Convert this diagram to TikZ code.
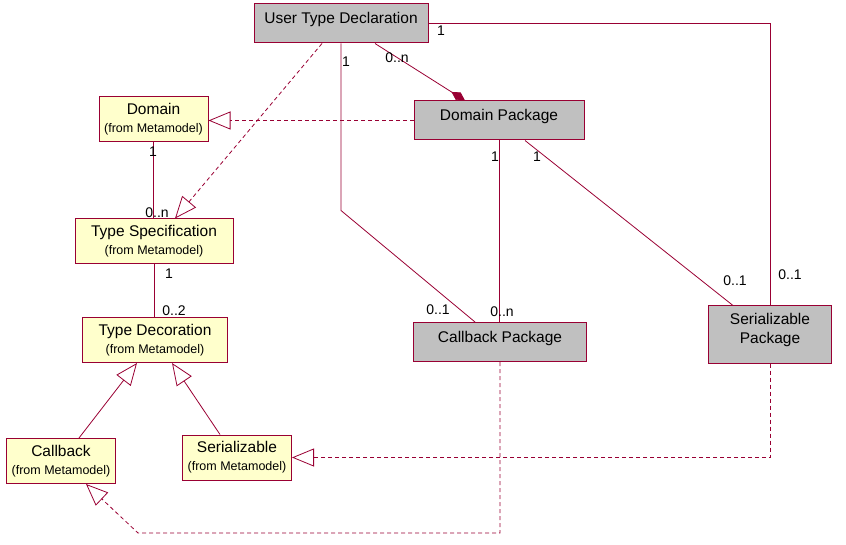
\documentclass[tikz,border=0pt]{standalone}
\usepackage{fontspec}
\setmainfont{Liberation Sans}
\usetikzlibrary{arrows.meta}

\definecolor{rose}{HTML}{990033}
\definecolor{pkggray}{HTML}{C0C0C0}
\definecolor{metayellow}{HTML}{FFFFCC}
\newcommand{\frommeta}{{\fontsize{12.5}{15}\selectfont (from Metamodel)}}

\begin{document}
\begin{tikzpicture}[
        x=1pt, y=-1pt, % координаты в пикселях, ось y вниз
        font=\fontsize{15.5}{18}\selectfont,
        box/.style={draw=rose, line width=1pt, inner sep=0pt, align=center},
        pkg/.style={box, fill=pkggray, text height=10pt, text depth=10pt}, % пакеты
        meta/.style={box, fill=metayellow, minimum width=109pt, minimum height=45pt}, % классы метамодели
        assoc/.style={draw=rose, line width=0.8pt},
        dep/.style={assoc, dash pattern=on 4pt off 3pt, -{Triangle[open, length=22pt, width=18pt]}},
        gen/.style={assoc, -{Triangle[open, length=22pt, width=18pt]}},
        comp/.style={assoc, -{Diamond[length=16pt, width=9pt]}},
        mult/.style={font=\fontsize{14}{16}\selectfont, inner sep=0pt}, % кратности
    ]
    \useasboundingbox (0,0) rectangle (846,545);

    \node[pkg, minimum width=174pt, minimum height=39pt] (utd) at (341,23.5) {User Type Declaration};
    \node[pkg, minimum width=170pt, minimum height=39pt] (dompkg) at (499,120.5) {Domain Package};
    \node[pkg, minimum width=173pt, minimum height=39pt] (cbpkg) at (500,342) {Callback Package};
    \node[pkg, minimum width=123pt, minimum height=57pt, text height=27pt] (serpkg) at (770,334.5) {Serializable\\Package};

    \node[meta] (domain) at (153.5,119.5) {Domain\\\frommeta};
    \node[meta, minimum width=158pt] (typespec) at (154,241.5) {Type Specification\\\frommeta};
    \node[meta, minimum width=145pt] (typedec) at (155,340) {Type Decoration\\\frommeta};
    \node[meta] (callback) at (61,461) {Callback\\\frommeta};
    \node[meta] (serial) at (237,457.5) {Serializable\\\frommeta};

    \coordinate (cbturn) at (138,533);

    \draw[assoc] (utd.east) -| (serpkg.north);
    \draw[assoc] (utd.south) -- ++(0,167) -- ([xshift=-25pt]cbpkg.north);
    \draw[comp] ([xshift=34pt]utd.south) -- ([xshift=-34pt]dompkg.north);
    \draw[dep] ([xshift=-19pt]utd.south) -- ([xshift=21pt]typespec.north);
    \draw[dep] (dompkg.west) -- (dompkg.west -| domain.east);
    \draw[assoc] (domain.south) -- (domain.south |- typespec.north);
    \draw[assoc] (typespec.south) -- (typespec.south |- typedec.north);
    \draw[gen] ([xshift=18pt]callback.north) -- ([xshift=-18pt]typedec.south);
    \draw[gen] ([xshift=-17pt]serial.north) -- ([xshift=17pt]typedec.south);
    \draw[assoc] (dompkg.south) -- (dompkg.south |- cbpkg.north);
    \draw[assoc] ([xshift=26pt]dompkg.south) -- ([xshift=-37pt]serpkg.north);
    \draw[dep] (serpkg.south) |- (serial.east);
    \draw[dep] (cbpkg.south) -- (cbpkg.south |- cbturn) -- (cbturn) -- ([xshift=25pt]callback.south);

    \node[mult] (m-utd-ser) at (441,31) {1};
    \node[mult] (m-ser-utd) at (790,274.5) {0..1};
    \node[mult] (m-utd-cb) at (346,62) {1};
    \node[mult] (m-cb-utd) at (438,310) {0..1};
    \node[mult] (m-utd-dom) at (397,58) {0..n};
    \node[mult] (m-domain) at (153,152) {1};
    \node[mult] (m-spec-top) at (157,213) {0..n};
    \node[mult] (m-spec-bot) at (169,274) {1};
    \node[mult] (m-dec) at (174,311) {0..2};
    \node[mult] (m-dom-cb) at (495,157) {1};
    \node[mult] (m-cb-dom) at (502,312) {0..n};
    \node[mult] (m-dom-ser) at (537,157) {1};
    \node[mult] (m-ser-dom) at (735,281) {0..1};

\end{tikzpicture}
\end{document}
